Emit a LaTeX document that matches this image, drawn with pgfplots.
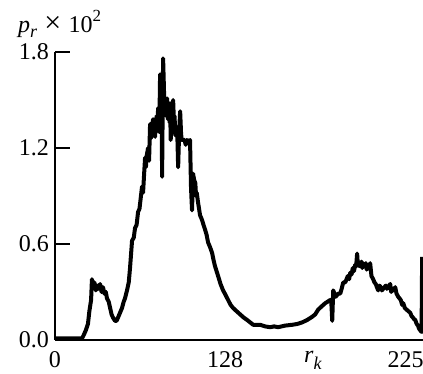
\documentclass[border=0pt]{standalone}
\usepackage{fontspec}
\setmainfont{Liberation Serif}
\usepackage{pgfplots}
\pgfplotsset{compat=1.18}
\begin{document}
\begin{tikzpicture}
\useasboundingbox (-55pt,-34pt) rectangle (368pt,340pt);
\begin{axis}[
  scale only axis, width=368pt, height=288pt,
  xmin=0, xmax=257, ymin=0, ymax=1.8,
  clip mode=individual,
  axis x line=bottom, axis y line=left,
  axis line style={-, line width=1.3pt, black},
  xtick={0,118.8,244.8}, xticklabels={0,128,225},
  xtick style={draw=none},
  ytick={0,0.6,1.2,1.8}, yticklabels={0.0,0.6,1.2,1.8},
  ytick style={line width=1.3pt, black},
  tick align=inside, major tick length=15pt,
  tick label style={font=\fontsize{24}{26}\selectfont, inner sep=0pt},
  xticklabel style={anchor=north, yshift=-11pt},
  yticklabel style={anchor=east, xshift=-6pt},
]
\addplot[black, line width=4pt, line join=round] coordinates {
(0,0.01) (18.9,0.01) (20,0.03) (21.5,0.06) (23,0.10) (24,0.18) (25.2,0.25) (25.8,0.38)
(26.5,0.33) (27.5,0.36) (28.5,0.31) (29.5,0.34) (30.5,0.32) (31.5,0.35) (32.5,0.30)
(33.5,0.33) (34.5,0.29) (35.5,0.30) (36.3,0.26) (37.5,0.24) (38.5,0.20) (39.5,0.16)
(40.5,0.14) (41.9,0.12) (43,0.12) (44,0.14) (45.4,0.17) (46.8,0.20) (48,0.24) (48.9,0.26)
(50.3,0.31) (51.5,0.36) (52.4,0.45) (53.8,0.62) (55,0.64) (55.9,0.70) (57,0.72) (58,0.80)
(59,0.82) (60.8,0.96) (61.5,0.92) (62,1.00) (62.9,1.14) (63.5,1.08) (64,1.15) (65,1.20)
(65.7,1.12) (66.4,1.35) (67,1.26) (67.6,1.32) (68.5,1.38) (69.2,1.30) (69.9,1.27) (70.4,1.36)
(71,1.40) (71.5,1.32) (72,1.45) (72.4,1.38) (72.8,1.30) (73.4,1.66) (74,1.45) (74.4,1.55)
(74.8,1.02) (75.2,1.45) (75.5,1.76) (76,1.60) (76.5,1.42) (77,1.50) (77.6,1.40) (78.3,1.51)
(78.9,1.38) (79.5,1.45) (80.1,1.36) (80.4,1.48) (80.8,1.25) (81.5,1.40) (82,1.33) (82.5,1.50)
(83,1.38) (83.5,1.40) (84,1.28) (84.5,1.30) (85.3,1.33) (86,1.08) (86.7,1.30) (87.4,1.43)
(88,1.30) (88.4,1.25) (89.4,1.25) (90.5,1.25) (91.3,1.22) (92.2,1.25) (93,1.24) (94.3,1.25)
(95,0.95) (95.7,0.81) (96.4,1.04) (97.2,1.00) (98,0.98) (98.5,0.90) (99,0.92) (99.9,0.86)
(100.6,0.82) (101.3,0.78) (102.7,0.75) (103.7,0.72) (104.8,0.69) (105.8,0.66) (106.9,0.61)
(108.3,0.58) (109.7,0.545) (110.7,0.50) (111.8,0.46) (113.9,0.40) (115.6,0.35) (117.4,0.31)
(119.2,0.28) (120.9,0.25) (122.6,0.22) (124.4,0.20) (126.8,0.18) (129.3,0.16) (131.8,0.14)
(134.2,0.125) (136.3,0.11) (138.4,0.095) (140.8,0.095) (143.3,0.095) (146.7,0.085) (150.2,0.08)
(153,0.085) (155.8,0.08) (160.7,0.09) (165.6,0.095) (169.1,0.10) (172.6,0.11) (176.1,0.125)
(179.6,0.145) (181.7,0.16) (183.8,0.19) (186.2,0.21) (188.7,0.23) (190.5,0.24) (192.2,0.25)
(193,0.23) (193.6,0.12) (194.3,0.31) (196,0.27) (197.8,0.29) (199.2,0.29) (200.2,0.32)
(201.3,0.36) (202.7,0.36) (203.6,0.38) (204.5,0.40) (205.4,0.38) (206.2,0.42) (207.1,0.41)
(208,0.45) (208.8,0.43) (209.6,0.47) (210.3,0.46) (211,0.54) (211.5,0.47) (212,0.47) (213.1,0.46)
(214,0.49) (214.6,0.45) (215.2,0.48) (216,0.46) (217,0.48) (217.7,0.44) (218.5,0.46)
(219.3,0.45) (220.1,0.48) (221,0.40) (222.2,0.38) (223.1,0.36) (224,0.35) (224.8,0.33)
(225.7,0.31) (226.6,0.34) (227.5,0.33) (228.3,0.31) (229.2,0.32) (230.1,0.33) (231,0.34)
(231.8,0.32) (232.5,0.33) (233.3,0.34) (234.1,0.35) (234.8,0.30) (235.5,0.32) (236.5,0.31)
(237.6,0.33) (238.5,0.29) (239.7,0.27) (240.6,0.26) (241.5,0.25) (242.4,0.22) (243.2,0.23)
(244.3,0.20) (245.5,0.19) (246.8,0.18) (248.1,0.17) (249,0.15) (250,0.14) (250.8,0.13)
(251.6,0.125) (252.6,0.10) (253.5,0.09) (254.3,0.07) (255.1,0.06) (256,0.05) (256.4,0.52)
};
\node[anchor=base west, inner sep=0pt, font=\fontsize{24}{26}\selectfont]
  at (axis description cs:-0.1005,1.069)
  {\textit{p}\raisebox{-0.22em}{\fontsize{18}{18}\selectfont\textit{r}}\hspace{0.3em}{\fontsize{30}{30}\selectfont ×}\hspace{0.3em}10\raisebox{0.45em}{\fontsize{17}{17}\selectfont 2}};
\node[anchor=base, inner sep=0pt, font=\fontsize{24}{26}\selectfont]
  at (axis description cs:0.701,-0.0764)
  {\textit{r}\raisebox{-0.3em}{\fontsize{18}{18}\selectfont\textit{k}}};
\end{axis}
\end{tikzpicture}
\end{document}
